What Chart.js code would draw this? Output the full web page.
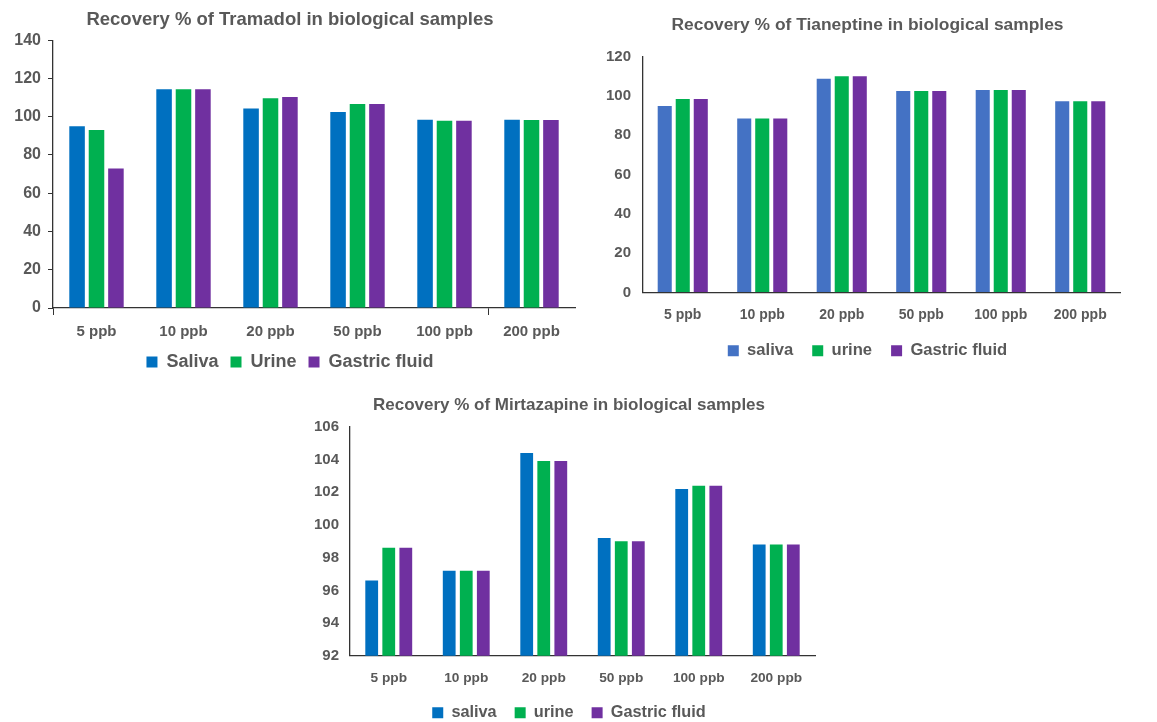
<!DOCTYPE html>
<html>
<head>
<meta charset="utf-8">
<script src="https://cdn.jsdelivr.net/npm/chart.js@4.4.1/dist/chart.umd.min.js"></script>
<style>
  body { margin: 0; width: 1157px; height: 722px; overflow: hidden; background: #fff; position: relative; }
  canvas { position: absolute; }
</style>
</head>
<body>
<canvas id="tramadolChart" width="590" height="381" style="left:0px;top:0px"></canvas>
<canvas id="tianeptineChart" width="555" height="369" style="left:590px;top:0px"></canvas>
<canvas id="mirtazapineChart" width="538" height="346" style="left:300px;top:385px"></canvas>
<script>
// concentrations
const categories = ['5 ppb', '10 ppb', '20 ppb', '50 ppb', '100 ppb', '200 ppb'];

// Tramadol recovery %
const tramadolSaliva = [95, 114.3, 104.3, 102.4, 98.4, 98.4];
const tramadolUrine = [93, 114.3, 109.7, 106.6, 97.9, 98.3];
const tramadolGastric = [72.9, 114.3, 110.3, 106.6, 97.9, 98.3];

// Tianeptine recovery %
const tianeptineSaliva = [94.9, 88.6, 108.8, 102.5, 103, 97.3];
const tianeptineUrine = [98.5, 88.6, 110, 102.5, 103, 97.3];
const tianeptineGastric = [98.5, 88.6, 110, 102.5, 103, 97.3];

// Mirtazapine recovery %
const mirtazapineSaliva = [96.6, 97.2, 104.4, 99.2, 102.2, 98.8];
const mirtazapineUrine = [98.6, 97.2, 103.9, 99.0, 102.4, 98.8];
const mirtazapineGastric = [98.6, 97.2, 103.9, 99.0, 102.4, 98.8];

const GREY = '#595959';
const AXIS = '#333333';
const FONT = "'Liberation Sans', Arial, sans-serif";

function bold(size) {
    return { family: FONT, size: size, weight: 'bold' };
}

function barSet(label, data, color, s) {
    return {
        label: label,
        data: data,
        backgroundColor: color,
        borderWidth: 0,
        categoryPercentage: s.catPct,
        barPercentage: s.barPct
    };
}

function makeChart(id, s) {
    const ctx = document.getElementById(id).getContext('2d');
    const tickLen = s.xTicks ? 7 : 0;
    return new Chart(ctx, {
        type: 'bar',
        data: {
            labels: categories,
            datasets: [
                barSet(s.names[0], s.saliva, s.colors[0], s),
                barSet(s.names[1], s.urine, s.colors[1], s),
                barSet(s.names[2], s.gastric, s.colors[2], s)
            ]
        },
        options: {
            responsive: false,
            animation: false,
            layout: { padding: s.padding },
            plugins: {
                title: {
                    display: true,
                    text: s.title,
                    color: GREY,
                    font: bold(s.titleSize),
                    padding: s.titlePad
                },
                legend: {
                    position: 'bottom',
                    labels: {
                        color: GREY,
                        font: bold(s.legendSize),
                        boxWidth: 11,
                        boxHeight: 11,
                        padding: s.legendPad
                    }
                },
                tooltip: { enabled: false }
            },
            scales: {
                x: {
                    // keep only the label band, no extra padding under the labels
                    afterFit: (scale) => { scale.height = tickLen + s.xPad + s.xSize * 1.2; },
                    grid: {
                        display: true,
                        drawOnChartArea: false,
                        drawTicks: s.xTicks,
                        tickLength: 7,
                        color: (c) => (c.index === 0 || c.index === 5) ? AXIS : 'rgba(0,0,0,0)'
                    },
                    border: { color: AXIS, width: 1.3 },
                    ticks: { color: GREY, font: bold(s.xSize), padding: s.xPad, maxRotation: 0 }
                },
                y: {
                    min: s.min,
                    max: s.max,
                    afterFit: (scale) => { scale.width = s.yWidth; },
                    grid: {
                        display: true,
                        drawOnChartArea: false,
                        drawTicks: s.yTicks,
                        tickLength: 5,
                        color: AXIS
                    },
                    border: { color: AXIS, width: 1.3 },
                    ticks: { stepSize: s.step, color: GREY, font: bold(s.ySize), padding: s.yPad }
                },
                // empty spacer on the right so the title sits where it does in the original
                yRight: {
                    position: 'right',
                    display: s.rightGap > 0,
                    afterFit: (scale) => { scale.width = s.rightGap; },
                    grid: { display: false },
                    border: { display: false },
                    ticks: { display: false }
                }
            }
        }
    });
}

function initTramadolChart() {
    makeChart('tramadolChart', {
        title: 'Recovery % of Tramadol in biological samples',
        names: ['Saliva', 'Urine', 'Gastric fluid'],
        colors: ['#0070C0', '#00B050', '#7030A0'],
        saliva: tramadolSaliva, urine: tramadolUrine, gastric: tramadolGastric,
        min: 0, max: 140, step: 20,
        padding: { left: 5, right: 15, top: 0, bottom: 0 },
        titleSize: 18.5, titlePad: { top: 9, bottom: 9 },
        legendSize: 18, legendPad: 12,
        xSize: 15, xPad: 8, xTicks: true,
        ySize: 16, yPad: 7, yTicks: true, yWidth: 48,
        rightGap: 0,
        catPct: 0.67, barPct: 0.8
    });
}

function initTianeptineChart() {
    makeChart('tianeptineChart', {
        title: 'Recovery % of Tianeptine in biological samples',
        names: ['saliva', 'urine', 'Gastric fluid'],
        colors: ['#4472C4', '#00B050', '#7030A0'],
        saliva: tianeptineSaliva, urine: tianeptineUrine, gastric: tianeptineGastric,
        min: 0, max: 120, step: 20,
        padding: { left: 0, right: 0, top: 0, bottom: 0 },
        titleSize: 17.4, titlePad: { top: 14.5, bottom: 21.3 },
        legendSize: 16.6, legendPad: 19,
        xSize: 14, xPad: 14, xTicks: false,
        ySize: 15, yPad: 12, yTicks: false, yWidth: 53,
        rightGap: 25,
        catPct: 0.68, barPct: 0.78
    });
}

function initMirtazapineChart() {
    makeChart('mirtazapineChart', {
        title: 'Recovery % of Mirtazapine in biological samples',
        names: ['saliva', 'urine', 'Gastric fluid'],
        colors: ['#0070C0', '#00B050', '#7030A0'],
        saliva: mirtazapineSaliva, urine: mirtazapineUrine, gastric: mirtazapineGastric,
        min: 92, max: 106, step: 2,
        padding: { left: 0, right: 0, top: 0, bottom: 0 },
        titleSize: 17, titlePad: { top: 9.8, bottom: 11.5 },
        legendSize: 16.3, legendPad: 18,
        xSize: 13.7, xPad: 14.4, xTicks: false,
        ySize: 15, yPad: 11, yTicks: false, yWidth: 50,
        rightGap: 23,
        catPct: 0.66, barPct: 0.75
    });
}

window.onload = () => {
    initTramadolChart();
    initTianeptineChart();
    initMirtazapineChart();
};
</script>
</body>
</html>
